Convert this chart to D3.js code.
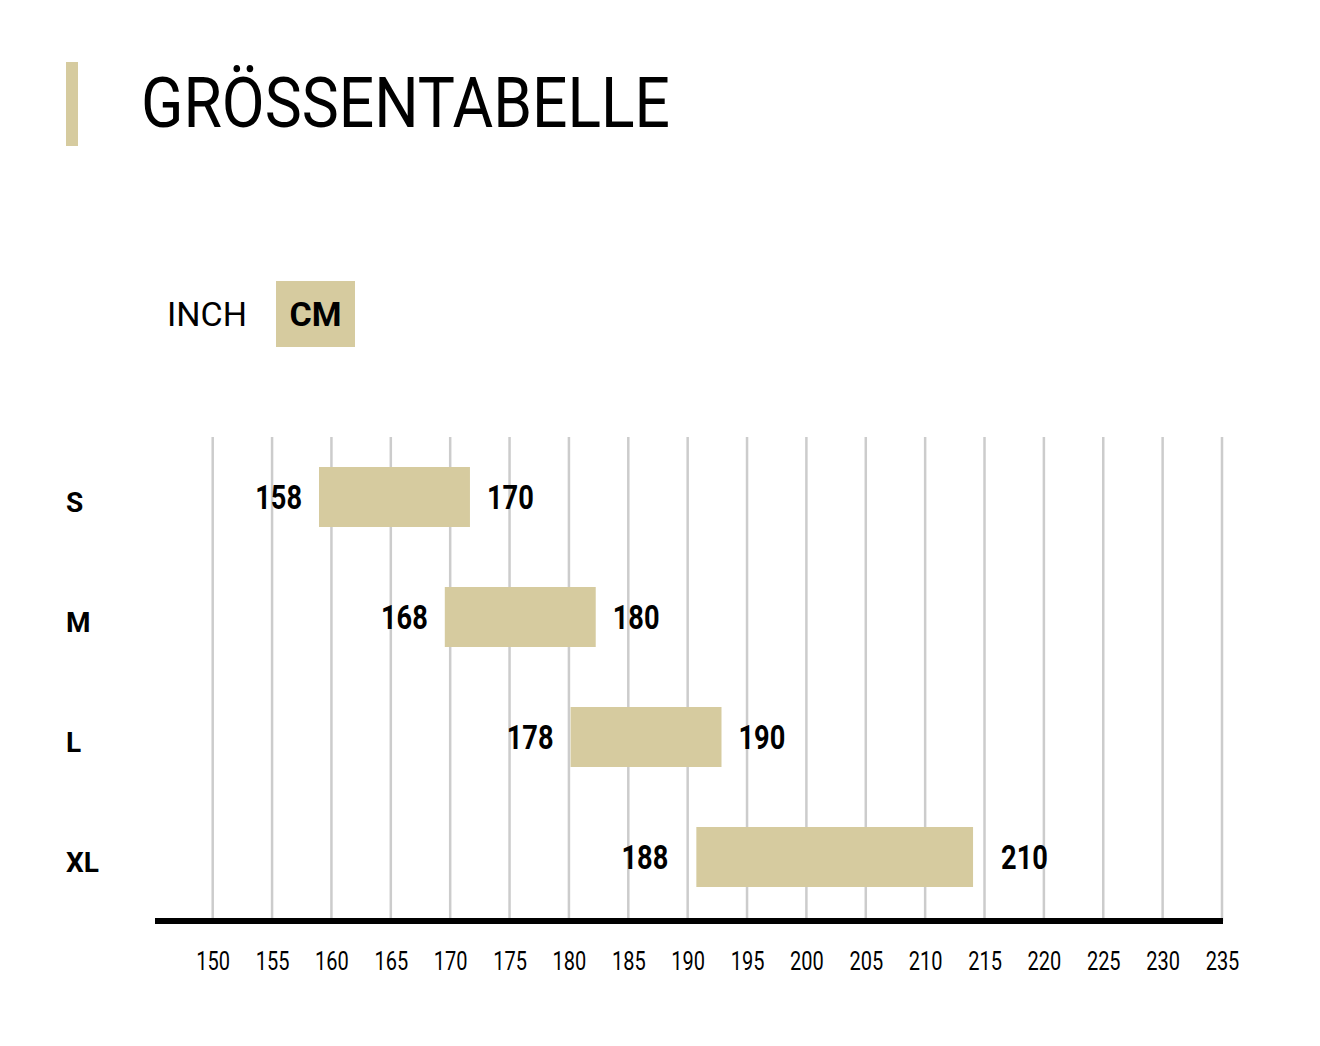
<!DOCTYPE html>
<html>
<head>
<meta charset="utf-8">
<script src="https://cdn.jsdelivr.net/npm/d3@7"></script>
<style>
  html, body { margin: 0; padding: 0; background: #ffffff; }
  svg { display: block; }
  text { font-family: Roboto, "Noto Sans", sans-serif; fill: #000; }
</style>
</head>
<body>
<svg id="chart" width="1320" height="1046"></svg>
<script>
const titleText = "GRÖSSENTABELLE";
const units = ["INCH", "CM"];
const activeUnit = "CM";
const sizes = ["S", "M", "L", "XL"];
const minCm = [158, 168, 178, 188];
const maxCm = [170, 180, 190, 210];
const tickValues = [150, 155, 160, 165, 170, 175, 180, 185, 190, 195, 200, 205, 210, 215, 220, 225, 230, 235];

const gold = "#d6cb9f";
const svg = d3.select("#chart");
const condense = 0.8;

// title
svg.append("rect").attr("x", 66).attr("y", 62).attr("width", 12).attr("height", 84).attr("fill", gold);
svg.append("text").attr("x", 141).attr("y", 127)
  .attr("font-size", 70).attr("font-weight", 400)
  .attr("textLength", 529).attr("lengthAdjust", "spacingAndGlyphs")
  .text(titleText);

// unit toggle
svg.append("rect").attr("x", 276).attr("y", 281).attr("width", 79).attr("height", 66).attr("fill", gold);
const unitX = d3.scaleOrdinal().domain(units).range([167, 315.5]);
svg.selectAll("text.unit").data(units).join("text")
  .attr("class", "unit")
  .attr("x", d => unitX(d))
  .attr("y", 326)
  .attr("font-size", 34)
  .attr("font-weight", d => d === activeUnit ? 700 : 400)
  .attr("text-anchor", d => d === activeUnit ? "middle" : "start")
  .text(d => d);

// scales
const xGrid = d3.scaleLinear().domain([150, 235]).range([212.7, 1222]);
const xBar = d3.scaleLinear().domain([150, 230]).range([218.4, 1224.6]);
const y = d3.scalePoint().domain(sizes).range([497, 857]);
const barH = 60;
const gridTop = 437, axisY = 921;

// grid lines
svg.append("g").selectAll("line").data(tickValues).join("line")
  .attr("x1", d => xGrid(d)).attr("x2", d => xGrid(d))
  .attr("y1", gridTop).attr("y2", axisY)
  .attr("stroke", "#cccccc").attr("stroke-width", 2.5);

// axis
const axis = d3.axisBottom(xGrid).tickValues(tickValues).tickSize(0).tickPadding(0).tickFormat(d3.format("d"));
const axisG = svg.append("g").attr("transform", `translate(0,${axisY})`).call(axis);
axisG.select(".domain").remove();
axisG.append("line").attr("x1", 155).attr("x2", 1223).attr("y1", 0).attr("y2", 0)
  .attr("stroke", "#000").attr("stroke-width", 6);
axisG.selectAll(".tick text")
  .attr("y", 0).attr("dy", 0)
  .attr("font-size", 25).attr("font-family", "Roboto").attr("fill", "#000")
  .attr("transform", `translate(0,49) scale(${condense},1)`);

// rows
const rows = sizes.map((s, i) => ({ size: s, lo: minCm[i], hi: maxCm[i] }));

svg.append("g").selectAll("text").data(rows).join("text")
  .attr("x", 66).attr("y", d => y(d.size) + 15)
  .attr("font-size", 28).attr("font-weight", 700)
  .text(d => d.size);

svg.append("g").selectAll("rect").data(rows).join("rect")
  .attr("x", d => xBar(d.lo))
  .attr("y", d => y(d.size) - barH / 2)
  .attr("width", d => xBar(d.hi) - xBar(d.lo))
  .attr("height", barH)
  .attr("fill", gold);

// label gap grows slightly with bar length, as in the reference
const gap = d => 17 + (xBar(d.hi) - xBar(d.lo) - 151) * 0.088;
svg.append("g").selectAll("text").data(rows).join("text")
  .attr("transform", d => `translate(${xBar(d.lo) - gap(d)},${y(d.size) + 12}) scale(${condense},1)`)
  .attr("text-anchor", "end")
  .attr("font-size", 34).attr("font-weight", 700)
  .text(d => d.lo);

svg.append("g").selectAll("text").data(rows).join("text")
  .attr("transform", d => `translate(${xBar(d.hi) + gap(d)},${y(d.size) + 12}) scale(${condense},1)`)
  .attr("text-anchor", "start")
  .attr("font-size", 34).attr("font-weight", 700)
  .text(d => d.hi);
</script>
</body>
</html>
